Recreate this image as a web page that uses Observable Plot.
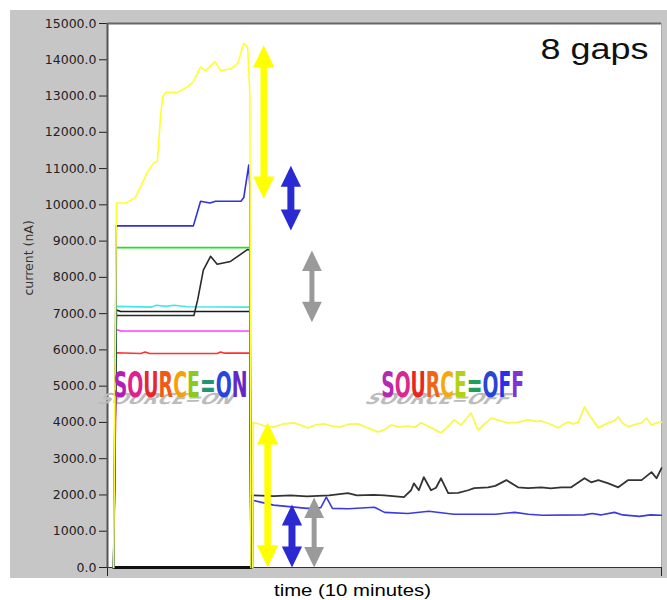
<!DOCTYPE html>
<html>
<head>
<meta charset="utf-8">
<script src="https://cdn.jsdelivr.net/npm/d3@7"></script>
<script src="https://cdn.jsdelivr.net/npm/@observablehq/plot@0.6"></script>
<style>
  body { margin: 0; background: #fff; }
  #wrap { position: relative; width: 667px; height: 600px; }
  #bg { position: absolute; left: 10px; top: 10px; width: 657px; height: 568px; background: #c6c6c6; }
  #chart { position: absolute; left: 0; top: 0; }
</style>
</head>
<body>
<div id="wrap"><div id="bg"></div><div id="chart"></div></div>
<script>
// ---------- data ----------
const yTicks = d3.range(0, 15001, 1000);
const xEnds = [0, 100];

// ON phase series: [time, current nA]
const redOn = [[1.1,0],[1.6,5920],[6,5900],[6.8,5940],[7.6,5900],[19.8,5900],[20.4,5940],[21.2,5910],[25.7,5910],[25.9,0]];
const magentaOn = [[1.1,0],[1.6,6560],[2.4,6520],[25.7,6520],[25.9,0]];
const cyanOn = [[1.1,0],[1.6,7200],[8,7180],[8.8,7230],[10.5,7200],[12,7230],[14.5,7190],[25.7,7180],[25.9,0]];
const blackFlatOn = [[1.1,0],[1.6,7100],[2.4,7060],[25.7,7060],[25.9,0]];
const blackRiseOn = [[1.1,0],[1.6,6950],[15.6,6950],[16.3,7400],[17.3,8200],[18.6,8580],[19.8,8360],[22.2,8440],[25.3,8770],[25.7,8750],[25.9,0]];
const greenOn = [[1.1,0],[1.6,8820],[25.7,8820],[25.9,0]];
const blueOn = [[1.1,0],[1.6,9420],[15.5,9420],[16.8,10100],[18.5,10050],[19.5,10100],[24.1,10100],[24.6,10200],[25.2,10800],[25.5,11100],[25.7,10500],[25.9,0]];
const yellowOn = [[1.1,0],[1.6,10050],[3.3,10050],[5.0,10200],[6.0,10500],[7.2,10900],[8.3,11150],[9.0,11200],[9.6,12500],[10.0,13000],[10.5,13100],[12.6,13100],[14.4,13250],[15.5,13400],[16.8,13800],[17.7,13700],[19.4,13950],[20.4,13700],[22.2,13750],[23.5,13900],[24.1,14200],[24.6,14450],[25.3,14350],[25.7,13000],[25.9,0]];
const baseOn = [[1.1,0],[25.9,0]];

// OFF phase series
const blueOff = [[26.2,0],[26.3,1850],[30,1720],[36,1630],[38.5,1650],[39.5,1940],[40.6,1630],[43.5,1620],[48.2,1660],[50,1520],[54.2,1490],[58,1550],[62.5,1470],[70,1470],[73.5,1520],[76,1470],[78.5,1440],[86,1450],[87.5,1490],[89,1450],[91.5,1520],[93,1450],[96,1410],[98,1450],[100,1440]];
const blackOff = [[26.1,0],[26.2,1990],[30,1970],[33,1990],[36,1960],[40,1990],[43.4,2050],[45,1990],[48,2000],[50,1990],[53.5,1940],[54.8,2130],[55.3,2320],[56.2,2130],[57.1,2490],[58.4,2130],[59.3,2200],[60.2,2460],[61.5,2050],[63.3,2060],[65.1,2130],[66.2,2190],[68.7,2210],[70,2250],[72.0,2410],[74.1,2210],[75.9,2190],[78.3,2210],[80,2180],[81.9,2210],[83.7,2210],[86.1,2460],[87.3,2350],[88.6,2410],[90.4,2320],[92.2,2210],[94.0,2410],[96.4,2410],[98.2,2630],[99.1,2460],[100,2740]];
const yellowOff = [[26.2,0],[26.3,4000],[27.5,3950],[28.5,3900],[30.0,3870],[31.5,3950],[33.6,3990],[35,3920],[36.2,3850],[37.5,3930],[39.1,3960],[40.5,3900],[42.1,3880],[43.5,3950],[45.2,3960],[47,3850],[48.8,3740],[50,3800],[51.2,3930],[52.5,3880],[54.2,3900],[55.5,3870],[56.6,3990],[58.5,3850],[60.2,3710],[61.5,3900],[62.6,4070],[63.8,3930],[64.8,4100],[65.6,4260],[66.9,3790],[68,3950],[69.3,4120],[70.8,4050],[72.3,3990],[74,4000],[75.9,4070],[77.5,4030],[78.3,4040],[80,3950],[81.4,3850],[82.3,3950],[83.2,4010],[84,3960],[85,4000],[86.1,4430],[87,4200],[88.6,3850],[89.5,3920],[90.4,3990],[91.5,4050],[92.2,4150],[93,3980],[94,3880],[95,3930],[96.4,3990],[97.3,4120],[98.2,3930],[99,3980],[100,4010]];

// gap arrows
const arrowT = [28.2, 33.1, 36.9, 28.9, 33.3, 37.3];
const arrowTop = [14400, 11080, 8740, 4000, 1740, 1930];
const arrowBottom = [10170, 9290, 6760, 0, 0, 0];
const arrowKind = ["yellow", "blue", "gray", "yellow", "blue", "gray"];

// texts
const labels = ["SOURCE=ON", "SOURCE=OFF"];
const labelT = [13.2, 62.3];
const labelV = [5020, 5020];
const onColors = ["#b41eb4","#e0208c","#e82828","#f05a14","#f5a00a","#8cc81e","#1e9678","#2846dc","#6428c8"];
const offColors = ["#b428b4","#dc288c","#eb2323","#f06414","#f5aa0a","#b4d214","#1ea05a","#2846d2","#2832e6","#8232d2"];
const title = "8 gaps";
const yLabel = "current (nA)";
const xLabel = "time (10 minutes)";

// ---------- styles ----------
const arrowStyle = {
  yellow: {color: "#ffff00", w: 6.5, r: 8.2},
  blue: {color: "#2a2ad2", w: 7, r: 7.8},
  gray: {color: "#9a9a9a", w: 5, r: 7.6}
};

const upHead = {draw(ctx, size) { const k = Math.sqrt(size / Math.PI); const w = 1.3 * k, h = 2.7 * k; ctx.moveTo(0, 0); ctx.lineTo(w, h); ctx.lineTo(-w, h); ctx.closePath(); }};
const downHead = {draw(ctx, size) { const k = Math.sqrt(size / Math.PI); const w = 1.3 * k, h = 2.7 * k; ctx.moveTo(0, 0); ctx.lineTo(w, -h); ctx.lineTo(-w, -h); ctx.closePath(); }};

const line = (pts, stroke, w = 1.6) => Plot.line(pts, {x: d => d[0], y: d => d[1], stroke, strokeWidth: w});

const arrowMarks = arrowT.flatMap((t, i) => {
  const s = arrowStyle[arrowKind[i]];
  const d = [{t, top: arrowTop[i], bottom: arrowBottom[i]}];
  return [
    Plot.ruleX(d, {x: "t", y1: "top", y2: "bottom", stroke: s.color, strokeWidth: s.w, insetTop: 12, insetBottom: 12}),
    Plot.dot(d, {x: "t", y: "top", symbol: upHead, r: s.r, fill: s.color, stroke: "none"}),
    Plot.dot(d, {x: "t", y: "bottom", symbol: downHead, r: s.r, fill: s.color, stroke: "none"})
  ];
});

const wordArt = {fontSize: 36, fontWeight: "bold", fontFamily: "DejaVu Sans Condensed, DejaVu Sans", lineAnchor: "middle"};

const chart = Plot.plot({
  width: 667,
  height: 600,
  marginLeft: 107,
  marginRight: 6,
  marginTop: 23,
  marginBottom: 33,
  style: {background: "transparent", fontFamily: "DejaVu Sans", fontSize: "12.5px", color: "#222"},
  x: {domain: [0, 100]},
  y: {domain: [0, 15000]},
  marks: [
    Plot.frame({fill: "white", stroke: "none"}),
    Plot.axisY(yTicks, {tickFormat: d3.format(".1f"), tickSize: 8, tickPadding: 3, label: null, fontSize: 12.5}),
    Plot.axisX(xEnds, {tickFormat: () => "", tickSize: 9, label: null}),
    Plot.ruleX([0], {stroke: "#555", strokeWidth: 2}),
    Plot.ruleY([15000], {stroke: "#666", strokeWidth: 2}),
    Plot.ruleX([100], {stroke: "#aaa", strokeWidth: 1}),
    Plot.ruleY([0], {stroke: "#333", strokeWidth: 1.2}),
    // shadows of the WordArt labels
    Plot.text(labels, {x: (d, i) => labelT[i], y: (d, i) => labelV[i], fill: "#bcbcbc", ...wordArt, ariaDescription: "shadow"}),
    // ON lines
    line(baseOn, "#111", 3),
    line(redOn, "#ff3030"),
    line(magentaOn, "#ff40ff"),
    line(cyanOn, "#40e8e8"),
    line(blackFlatOn, "#1a1a1a"),
    line(blackRiseOn, "#2a2a2a"),
    line(greenOn, "#22e022"),
    line(blueOn, "#3030e0"),
    line(yellowOn, "#ffff30"),
    // OFF lines
    line(blueOff, "#3a3ae0"),
    line(blackOff, "#333333", 1.8),
    line(yellowOff, "#f8f850", 1.8),
    ...arrowMarks,
    Plot.text(labels, {x: (d, i) => labelT[i], y: (d, i) => labelV[i], fill: "#000", ...wordArt, ariaDescription: "rainbow"}),
    Plot.text([title], {frameAnchor: "top-right", dx: -13, dy: 26.5, lineAnchor: "middle", textAnchor: "end", fontSize: 29, fontFamily: "Liberation Sans, Arial", fill: "#111", ariaDescription: "title"}),
    Plot.text([yLabel], {frameAnchor: "left", rotate: -90, dx: -79, fontSize: 12.5, fontFamily: "DejaVu Sans", fill: "#333", ariaDescription: "ylabel"}),
    Plot.text([xLabel], {frameAnchor: "bottom", dx: -32, dy: 23, lineAnchor: "middle", fontSize: 17, fontFamily: "Liberation Sans, Arial", fill: "#000", ariaDescription: "xlabel"})
  ]
});

document.getElementById("chart").append(chart);

// ---------- post-processing of texts ----------
const NS = "http://www.w3.org/2000/svg";
const group = (name) => chart.querySelector(`g[aria-description="${name}"]`);
const fitText = (name, lengths) => {
  const g = group(name);
  if (!g) return;
  g.querySelectorAll("text").forEach((el, i) => {
    el.setAttribute("textLength", lengths[i]);
    el.setAttribute("lengthAdjust", "spacingAndGlyphs");
  });
};
const rb = group("rainbow");
if (rb) rb.querySelectorAll("text").forEach((el, i) => {
  const s = el.textContent;
  const cols = i === 0 ? onColors : offColors;
  el.textContent = "";
  [...s].forEach((ch, j) => {
    const ts = document.createElementNS(NS, "tspan");
    ts.textContent = ch;
    ts.setAttribute("fill", cols[j % cols.length]);
    el.append(ts);
  });
});
fitText("rainbow", [134, 143]);
fitText("shadow", [134, 143]);
fitText("title", [108]);
fitText("xlabel", [157]);
const sh = group("shadow");
if (sh) {
  sh.style.transformBox = "fill-box";
  sh.style.transformOrigin = "50% 0%";
  sh.style.transform = "translate(-6px, 27px) scaleY(0.42) skewX(-18deg)";
}
</script>
</body>
</html>
